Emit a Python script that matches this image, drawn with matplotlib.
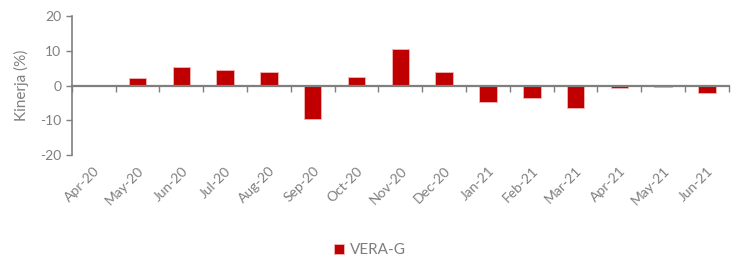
import matplotlib
matplotlib.use("Agg")
import matplotlib.pyplot as plt
from matplotlib.ticker import FixedLocator
import numpy as np

categories = ["Apr-20", "May-20", "Jun-20", "Jul-20", "Aug-20", "Sep-20", "Oct-20",
              "Nov-20", "Dec-20", "Jan-21", "Feb-21", "Mar-21", "Apr-21", "May-21", "Jun-21"]
vera_g = [0.0, 2.3, 5.3, 4.6, 3.9, -9.5, 2.6, 10.4, 4.0, -4.6, -3.5, -6.4, -0.6, -0.4, -2.2]
series_name = "VERA-G"
y_ticks = [-20, -10, 0, 10, 20]

plt.rcParams['font.family'] = ['Lato', 'DejaVu Sans']
plt.rcParams['axes.unicode_minus'] = False
gray = "#7f7f7f"

fig = plt.figure(figsize=(7.4, 2.62), dpi=100)
ax = fig.add_axes([0.097, 0.408, 0.888, 0.531])

x = np.arange(len(categories))
ax.bar(x, vera_g, width=0.4, color="#C00000", edgecolor="#f4b6b6", linewidth=0.6,
       label=series_name, zorder=2)

ax.set_xlim(-0.5, len(categories) - 0.5)
ax.set_ylim(-20, 20)
ax.set_yticks(y_ticks)
ax.tick_params(axis='y', colors=gray, labelsize=10, length=4, width=1, direction='out')

for s in ['top', 'right']:
    ax.spines[s].set_visible(False)
ax.spines['left'].set_color(gray)
ax.spines['left'].set_linewidth(1.2)
ax.spines['bottom'].set_position(('data', 0))
ax.spines['bottom'].set_color(gray)
ax.spines['bottom'].set_linewidth(1.6)
ax.spines['bottom'].set_zorder(4)

ax.xaxis.set_major_locator(FixedLocator(np.arange(len(categories) + 1) - 0.5))
ax.set_xticklabels([], minor=False)
ax.set_xticks(x, minor=True)
ax.set_xticklabels(categories, minor=True, rotation=45, ha='right',
                   rotation_mode='anchor', color=gray, fontsize=10)
ax.tick_params(axis='x', which='major', length=4, width=1, color=gray, direction='out')
ax.tick_params(axis='x', which='minor', length=0, pad=57)

ax.set_ylabel("Kinerja (%)", color=gray, fontsize=11, labelpad=8)

fig.legend(loc='lower center', bbox_to_anchor=(0.5, -0.035), frameon=False,
           fontsize=11, labelcolor=gray, handlelength=0.7, handleheight=0.7,
           handletextpad=0.4)

fig.savefig("out.png", dpi=100)
